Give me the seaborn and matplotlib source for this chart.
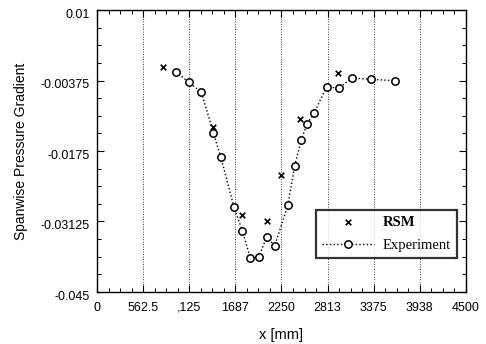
import numpy as np
import pandas as pd
import seaborn as sns
import matplotlib
matplotlib.use("Agg")
import matplotlib.pyplot as plt
from matplotlib.ticker import AutoMinorLocator
from matplotlib.transforms import ScaledTranslation

# Experiment measurements
exp_x = [963, 1118, 1272, 1418, 1509, 1671, 1772, 1870, 1972, 2070, 2167,
         2329, 2411, 2491, 2561, 2646, 2801, 2948, 3106, 3338, 3638]
exp_y = [-0.00203, -0.00410, -0.00599, -0.01393, -0.01861, -0.02848, -0.03305,
         -0.03837, -0.03824, -0.03422, -0.03603, -0.02797, -0.02037, -0.01536,
         -0.01224, -0.01015, -0.00496, -0.00527, -0.00326, -0.00352, -0.00379]

# RSM predictions
rsm_x = [801, 1418, 1772, 2073, 2244, 2476, 2939]
rsm_y = [-0.00118, -0.01288, -0.03004, -0.03121, -0.02224, -0.01126, -0.00229]

x_ticks = [0, 562.5, 1125, 1687.5, 2250, 2812.5, 3375, 3937.5, 4500]
x_tick_labels = ["0", "562.5", ",125", "1687", "2250", "2813", "3375", "3938", "4500"]
y_ticks = [0.01, -0.00375, -0.0175, -0.03125, -0.045]
y_tick_labels = ["0.01", "-0.00375", "-0.0175", "-0.03125", "-0.045"]

sns.set_style("ticks")
plt.rcParams["font.family"] = ["Liberation Sans", "DejaVu Sans"]
plt.rcParams.update({"text.color": "black", "axes.labelcolor": "black",
                     "xtick.color": "black", "ytick.color": "black"})

fig = plt.figure(figsize=(4.86, 3.44), dpi=100)
ax = fig.add_axes([0.1996, 0.1512, 0.7592, 0.8197])

exp_df = pd.DataFrame({"x": exp_x, "y": exp_y})
rsm_df = pd.DataFrame({"x": rsm_x, "y": rsm_y})

sns.lineplot(data=exp_df, x="x", y="y", ax=ax, sort=False, estimator=None,
             color="black", linestyle=":", linewidth=1.0, marker="o",
             markersize=5.3, markerfacecolor="white", markeredgecolor="black",
             markeredgewidth=1.1, label="Experiment", zorder=3)
sns.scatterplot(data=rsm_df, x="x", y="y", ax=ax, marker="x", color="black",
                s=16, linewidth=1.2, label="RSM", zorder=4)

ax.set_xlim(0, 4500)
ax.set_ylim(-0.045, 0.01)
ax.set_xticks(x_ticks)
ax.set_xticklabels(x_tick_labels, fontsize=9, color="black")
ax.set_yticks(y_ticks)
ax.set_yticklabels(y_tick_labels, fontsize=9, color="black")
ax.xaxis.set_minor_locator(AutoMinorLocator(4))
ax.yaxis.set_minor_locator(AutoMinorLocator(4))
ax.tick_params(which="both", direction="in", top=True, right=True,
               color="black", labelcolor="black")
ax.tick_params(which="major", length=5, width=0.8)
ax.tick_params(which="minor", length=3, width=0.7)
ax.tick_params(axis="x", which="major", pad=7)
ax.tick_params(axis="y", which="major", pad=5)

# nudge the y tick labels slightly downward
shift = ScaledTranslation(0, -2.5 / 72, fig.dpi_scale_trans)
for lbl in ax.get_yticklabels():
    lbl.set_transform(lbl.get_transform() + shift)

ax.grid(False)
for xv in x_ticks[1:-1]:
    ax.axvline(xv, color="black", linestyle=(0, (1, 2)), linewidth=0.6, zorder=1)

for sp in ax.spines.values():
    sp.set_color("black")
    sp.set_linewidth(1.0)

ax.set_xlabel("x [mm]", fontsize=10.5, labelpad=10, color="black")
ax.set_ylabel("Spanwise Pressure Gradient", fontsize=10, labelpad=9, color="black")

handles, labels = ax.get_legend_handles_labels()
order = [labels.index("RSM"), labels.index("Experiment")]
leg = ax.legend([handles[i] for i in order], [labels[i] for i in order],
                loc="lower right", bbox_to_anchor=(0.9756, 0.1206),
                borderaxespad=0.0,
                prop={"family": ["Liberation Serif", "DejaVu Serif"], "size": 10.5},
                handlelength=3.6, frameon=True, fancybox=False, borderpad=0.4,
                labelspacing=0.7, handletextpad=0.6)
leg.get_frame().set_edgecolor("black")
leg.get_frame().set_linewidth(1.6)
for t in leg.texts:
    t.set_color("black")
leg.texts[0].set_fontweight("bold")

fig.savefig("out.png", dpi=100)
